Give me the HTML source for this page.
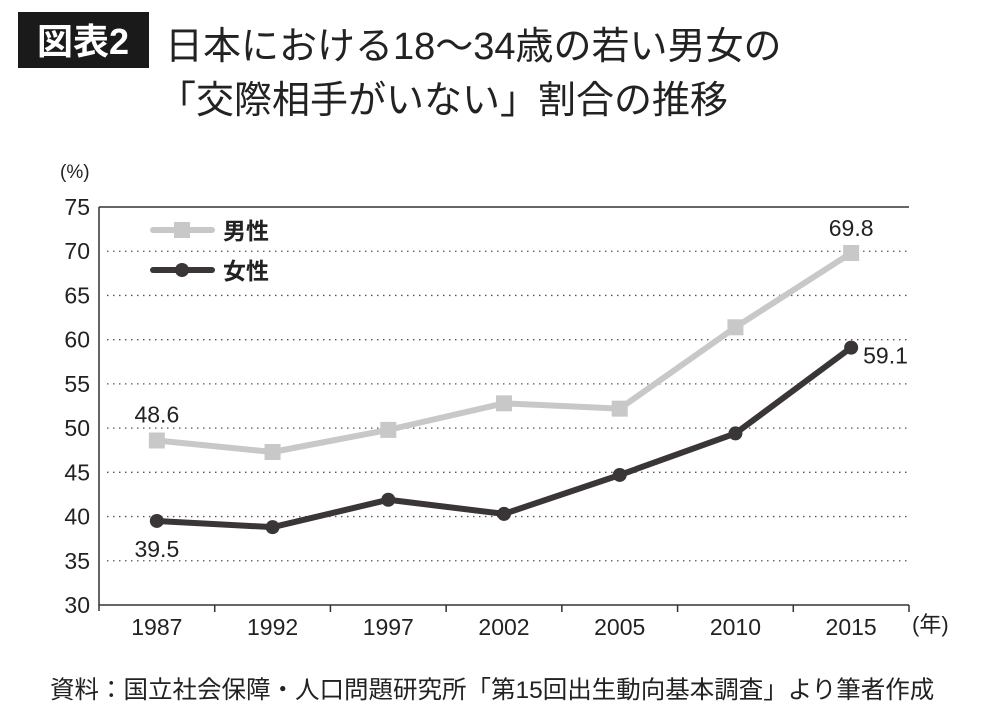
<!DOCTYPE html>
<html><head><meta charset="utf-8"><style>
body{margin:0;background:#fff;width:1000px;height:720px;overflow:hidden;font-family:"Liberation Sans","Noto Sans CJK JP",sans-serif;}
svg text{font-family:"Liberation Sans","Noto Sans CJK JP",sans-serif;}
</style></head><body>
<svg id="c" width="1000" height="720">
<rect x="18" y="12" width="131" height="56" fill="#1a1a1a"/>
<text x="83" y="54" font-size="36" font-weight="bold" fill="#fff" text-anchor="middle">図表2</text>
<text x="165" y="59" font-size="38" fill="#222">日本における18〜34歳の若い男女の</text>
<text x="158" y="113" font-size="38" fill="#222">「交際相手がいない」割合の推移</text>
<text x="60" y="178" font-size="19" fill="#222">(%)</text>
<text x="912" y="632" font-size="22" fill="#222">(年)</text>
<text x="50" y="698" font-size="24.5" fill="#222">資料：国立社会保障・人口問題研究所「第15回出生動向基本調査」より筆者作成</text>
<g id="plot"></g>
</svg>
<script>
const categories=["1987","1992","1997","2002","2005","2010","2015"];
const maleValues=[48.6,47.3,49.8,52.8,52.2,61.4,69.8];
const femaleValues=[39.5,38.8,41.9,40.3,44.7,49.4,59.1];
const yTicks=[30,35,40,45,50,55,60,65,70,75];
const NS="http://www.w3.org/2000/svg";
const L=99,R=909,T=207,B=605,yMin=30,yMax=75;
const band=(R-L)/categories.length;
const x=i=>L+band*(i+0.5);
const y=v=>B-(v-yMin)/(yMax-yMin)*(B-T);
const g=document.getElementById('plot');
function mk(tag,a){const e=document.createElementNS(NS,tag);for(const k in a)e.setAttribute(k,a[k]);g.appendChild(e);return e;}
yTicks.forEach(t=>{
  if(t>yMin&&t<yMax){const l=mk('line',{x1:L+8,x2:R,y1:y(t),y2:y(t),stroke:'#555','stroke-width':1.3,'stroke-dasharray':'1.5 4.5'});
  
  }
  const tx=mk('text',{x:L-9,y:y(t)+8,'font-size':23,fill:'#222','text-anchor':'end'});tx.textContent=t;
  
  
});
const topBorder=mk('line',{x1:L,x2:R,y1:T,y2:T,stroke:'#333','stroke-width':1.5});


const ya=mk('line',{x1:L,x2:L,y1:T,y2:B+6,stroke:'#333','stroke-width':1.5});


const xa=mk('line',{x1:L,x2:R,y1:B,y2:B,stroke:'#333','stroke-width':1.5});


for(let i=1;i<=categories.length;i++){const tk=mk('line',{x1:L+band*i,x2:L+band*i,y1:B,y2:B+7,stroke:'#333','stroke-width':1.5});

}
categories.forEach((c,i)=>{const t=mk('text',{x:x(i),y:B+30,'font-size':23,fill:'#222','text-anchor':'middle'});t.textContent=c;

});
function series(vals,color,shape,name){
  const pl=mk('polyline',{points:vals.map((v,i)=>x(i)+','+y(v)).join(' '),fill:'none',stroke:color,'stroke-width':6,'stroke-linejoin':'round'});
  
  
  vals.forEach((v,i)=>{let m;
    if(shape==='sq')m=mk('rect',{x:x(i)-8,y:y(v)-8,width:16,height:16,fill:color});
    else m=mk('circle',{cx:x(i),cy:y(v),r:7,fill:color});
    
    });
}
series(maleValues,'#c8c8c8','sq','male');
series(femaleValues,'#3a3536','ci','female');
function lab(txt,xx,yy,anchor,name,bold){const t=mk('text',{x:xx,y:yy,'font-size':23,fill:'#222','text-anchor':anchor});t.textContent=txt;
if(bold)t.setAttribute('font-weight','bold');

}
lab(maleValues[0],x(0),y(maleValues[0])-18,'middle','male-first-label');
lab(maleValues[6],x(6),y(maleValues[6])-17,'middle','male-last-label');
lab(femaleValues[0],x(0),y(femaleValues[0])+36,'middle','female-first-label');
lab(femaleValues[6],x(6)+12,y(femaleValues[6])+16,'start','female-last-label');
const l1=mk('line',{x1:153,x2:212,y1:230,y2:230,stroke:'#c8c8c8','stroke-width':6,'stroke-linecap':'round'});


const r1=mk('rect',{x:174,y:222,width:16,height:16,fill:'#c8c8c8'});


lab('男性',223,239,'start','legend-male-label',true);
const l2=mk('line',{x1:153,x2:212,y1:270,y2:270,stroke:'#3a3536','stroke-width':6,'stroke-linecap':'round'});


const c2=mk('circle',{cx:182,cy:270,r:7,fill:'#3a3536'});


lab('女性',223,279,'start','legend-female-label',true);
</script>
</body></html>
